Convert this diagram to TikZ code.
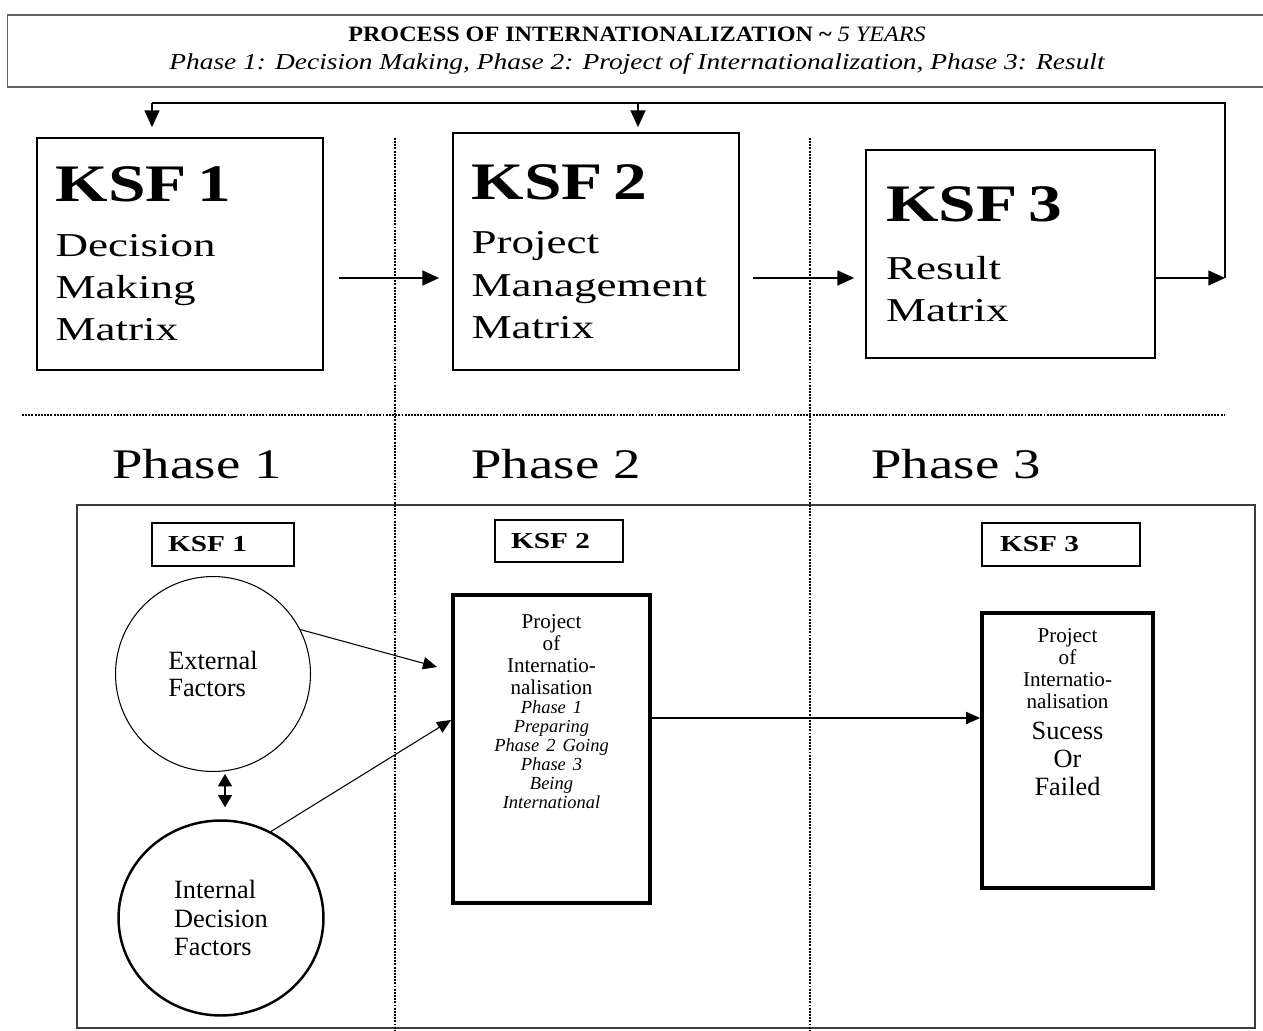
\documentclass[tikz,border=0pt]{standalone}
\usepackage{fontspec}
\setmainfont{Liberation Serif}
\newfontfamily\titlefont[FakeStretch=1.1]{Liberation Serif}
\newfontfamily\titlewide[FakeStretch=1.2]{Liberation Serif}
\newfontfamily\widefont[FakeStretch=1.35]{Liberation Serif}
\newfontfamily\phasefont[FakeStretch=1.3]{Liberation Serif}
\newfontfamily\ksffont[FakeStretch=1.28]{Liberation Serif}
\definecolor{framegray}{RGB}{60, 60, 60}
\usetikzlibrary{arrows.meta, positioning, shapes.geometric, calc}
\newcommand{\ksfhead}[1]{{\ksffont\bfseries\fontsize{30}{36}\selectfont #1}}
\tikzset{
	titlebox/.style={rectangle, draw=framegray!80, line width=0.7pt, align=center, inner sep=0pt},
	matbox/.style={rectangle, draw, line width=1pt, align=left, inner xsep=0.37cm, inner ysep=0pt, font=\widefont\fontsize{19}{24}\selectfont},
	phaselabel/.style={anchor=base, inner sep=0pt, font=\phasefont\fontsize{24}{28}\selectfont},
	frame/.style={rectangle, draw=framegray, line width=0.9pt, inner sep=0pt},
	ksfsmall/.style={rectangle, draw, line width=0.8pt, align=left, inner xsep=0.32cm, inner ysep=0pt, font=\ksffont\bfseries\fontsize{13}{15}\selectfont},
	phasebox/.style={rectangle, draw, line width=2.2pt, inner sep=0pt},
	boxtext/.style={align=center, inner sep=0pt, text width=3.3cm, font=\fontsize{12}{12.6}\selectfont},
	extcircle/.style={circle, draw, line width=0.6pt, minimum size=3.9cm, align=left, inner sep=0pt, font=\fontsize{15}{15.5}\selectfont},
	intcircle/.style={ellipse, draw, line width=1.4pt, minimum width=4.1cm, minimum height=3.9cm, align=left, inner sep=0pt, font=\fontsize{15}{16}\selectfont},
	divider/.style={line width=0.9pt, dash pattern=on 1.1pt off 0.7pt},
	arrow/.style={-{Triangle[length=9.5pt, width=8.5pt]}, line width=0.8pt},
	smallarrow/.style={-{Triangle[length=8pt, width=7pt]}, line width=0.6pt},
	dblarrow/.style={{Triangle[length=7pt, width=8pt]}-{Triangle[length=7pt, width=8pt]}, line width=0.8pt},
}

\begin{document}
\begin{tikzpicture}[x=0.02cm, y=-0.02cm]
	\useasboundingbox (0,0) rectangle (1263,1030);
	% title
	\node[titlebox, minimum width=25.2cm, minimum height=1.44cm] (title) at (637,51)
		{{\titlefont\bfseries\fontsize{12.5}{15}\selectfont PROCESS OF INTERNATIONALIZATION \textasciitilde{} }{\titlefont\itshape\fontsize{12.5}{15}\selectfont 5 YEARS}\\[4pt]
		 {\titlewide\itshape\fontsize{13}{15}\selectfont Phase 1: Decision Making, Phase 2: Project of Internationalization, Phase 3: Result}};

	% key success factors, top row
	\node[matbox, minimum width=5.72cm, minimum height=4.64cm, text width=4.98cm] (ksfA) at (180,254) {\ksfhead{KSF 1}\\[7pt] Decision\\ Making\\ Matrix};
	\node[matbox, minimum width=5.72cm, minimum height=4.74cm, text width=4.98cm] (ksfB) at (596,251.5) {\ksfhead{KSF 2}\\[7pt] Project\\ Management\\ Matrix};
	\node[matbox, minimum width=5.78cm, minimum height=4.16cm, text width=4.98cm, inner xsep=0.4cm] (ksfC) at (1010.5,254) {\ksfhead{KSF 3}\\[9pt] Result\\ Matrix};

	\coordinate (rowy) at (0,278);
	\coordinate (loopR) at (1225,103);
	\coordinate (loopA) at (152,103);
	\coordinate (loopB) at (638,103);
	\draw[arrow, shorten <=0.3cm, shorten >=0.26cm] (ksfA.east |- rowy) -- (ksfB.west |- rowy);
	\draw[arrow, shorten <=0.26cm, shorten >=0.22cm] (ksfB.east |- rowy) -- (ksfC.west |- rowy);
	\draw[arrow] (ksfC.east |- rowy) -- (loopR |- rowy);
	\draw[line width=0.8pt] (loopR |- rowy) -- (loopR) -- (loopA);
	\draw[arrow, shorten >=0.2cm] (loopA) -- (loopA |- ksfA.north);
	\draw[arrow, shorten >=0.1cm] (loopB) -- (loopB |- ksfB.north);

	% phases
	\draw[divider] (22,415) -- (1225,415);
	\node[phaselabel] (ph1) at (197,478) {Phase 1};
	\node[phaselabel] (ph2) at (556,478) {Phase 2};
	\node[phaselabel] (ph3) at (956,478) {Phase 3};

	% lower panel
	\node[frame, minimum width=23.56cm, minimum height=10.46cm] (frame) at (666,766.5) {};
	\draw[divider] (395,138) -- (395,1030);
	\draw[divider] (810,138) -- (810,1030);

	\node[ksfsmall, minimum width=2.84cm, minimum height=0.86cm, text width=2.2cm] (kA) at (223,544.5) {KSF 1};
	\node[ksfsmall, minimum width=2.56cm, minimum height=0.84cm, text width=1.92cm] (kB) at (559,541) {KSF 2};
	\node[ksfsmall, minimum width=3.16cm, minimum height=0.86cm, text width=2.44cm, inner xsep=0.36cm] (kC) at (1061,544.5) {KSF 3};

	\node[extcircle] (ext) at (213,674) {External\\Factors};
	\node[intcircle] (int) at (221,918) {Internal\\Decision\\Factors};
	\coordinate (dbl) at (225,0);
	\draw[dblarrow, shorten <=0.04cm, shorten >=0.24cm] (ext.south -| dbl) -- (int.north -| dbl);

	\node[phasebox, minimum width=3.94cm, minimum height=6.16cm] (proj) at (551.5,749) {};
	\node[boxtext, below=0.42cm of proj.north] (projtxt) {Project\\ of\\ Internatio-\\ nalisation\\
		{\itshape\fontsize{10.5}{10.8}\selectfont Phase 1\\ Preparing\\ Phase 2 Going\\ Phase 3\\ Being\\ International\par}};

	\node[phasebox, minimum width=3.42cm, minimum height=5.5cm] (result) at (1067.5,750.5) {};
	\node[boxtext, text width=3cm, below=0.34cm of result.north] (restxt) {Project\\ of\\ Internatio-\\ nalisation\\[1pt]
		{\fontsize{15}{16.2}\selectfont Sucess\\ Or\\ Failed\par}};

	\coordinate (inA) at (437,667);
	\coordinate (inB) at (0,720);
	\coordinate (midy) at (0,718);
	\draw[smallarrow] (ext.27) -- (inA);
	\draw[smallarrow] (int.60) -- (proj.west |- inB);
	\draw[smallarrow] (proj.east |- midy) -- (result.west |- midy);
\end{tikzpicture}
\end{document}
